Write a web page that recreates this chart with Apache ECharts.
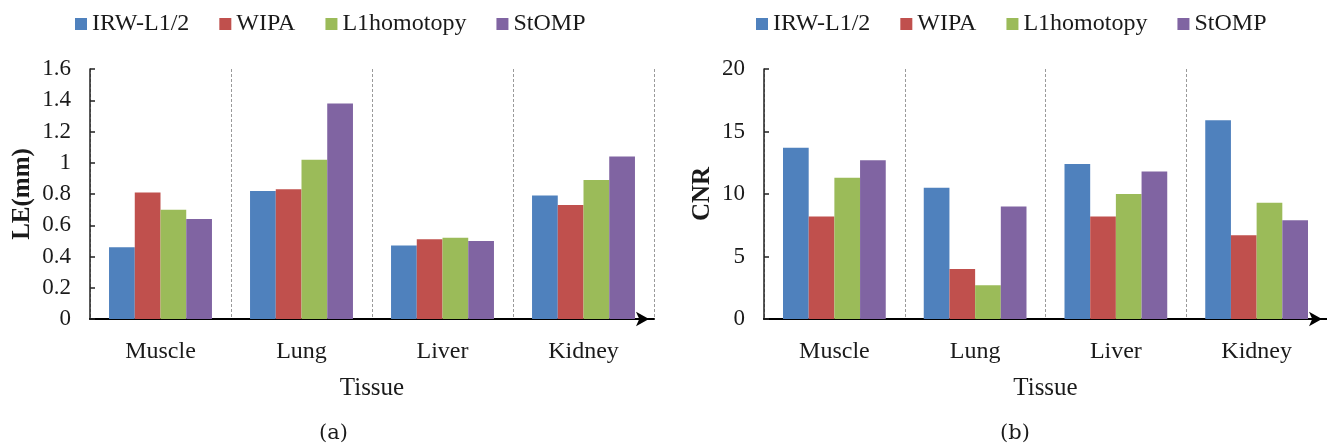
<!DOCTYPE html>
<html>
<head>
<meta charset="utf-8">
<script src="https://cdn.jsdelivr.net/npm/echarts@6/dist/echarts.min.js"></script>
<style>
  html, body { margin: 0; padding: 0; background: #fff; }
  #chart { width: 1327px; height: 446px; }
</style>
</head>
<body>
<div id="chart"></div>
<script>
// tissues and methods
var tissues = ["Muscle", "Lung", "Liver", "Kidney"];
var methods = ["IRW-L1/2", "WIPA", "L1homotopy", "StOMP"];
var colors = ["#4F81BD", "#C0504D", "#9BBB59", "#8064A2"];

// (a) localisation error, mm
var leIRW = [0.46, 0.82, 0.47, 0.79];
var leWIPA = [0.81, 0.83, 0.51, 0.73];
var leL1 = [0.70, 1.02, 0.52, 0.89];
var leStOMP = [0.64, 1.38, 0.50, 1.04];

// (b) contrast to noise ratio
var cnrIRW = [13.7, 10.5, 12.4, 15.9];
var cnrWIPA = [8.2, 4.0, 8.2, 6.7];
var cnrL1 = [11.3, 2.7, 10.0, 9.3];
var cnrStOMP = [12.7, 9.0, 11.8, 7.9];

var serif = "Liberation Serif";

function xAxisOf(gridIndex) {
  return {
    type: "category",
    gridIndex: gridIndex,
    data: tissues,
    name: "Tissue",
    nameLocation: "middle",
    nameGap: 57,
    nameTextStyle: { fontFamily: serif, fontSize: 25, color: "#1a1a1a" },
    axisLine: {
      lineStyle: { color: "#000", width: 2 },
      symbol: ["none", "arrow"],
      symbolSize: [11, 13],
      symbolOffset: [0, -5]
    },
    axisTick: { show: false },
    axisLabel: { margin: 21, fontFamily: serif, fontSize: 24, color: "#1a1a1a" },
    splitLine: { show: true, lineStyle: { color: "#9a9a9a", type: [3, 2], width: 1 } }
  };
}

function yAxisOf(gridIndex, name, max, step, nameGap) {
  return {
    type: "value",
    gridIndex: gridIndex,
    min: 0,
    max: max,
    interval: step,
    name: name,
    nameLocation: "middle",
    nameGap: nameGap,
    nameTextStyle: { fontFamily: serif, fontSize: 25, fontWeight: "bold", color: "#1a1a1a" },
    axisLine: { show: true, lineStyle: { color: "#222", width: 1.5 } },
    axisTick: { show: true, inside: true, length: 5, lineStyle: { color: "#222", width: 1.5 } },
    axisLabel: { margin: 19, fontFamily: serif, fontSize: 23, color: "#1a1a1a" },
    splitLine: { show: false }
  };
}

function barsOf(gridIndex, lists) {
  return lists.map(function (vals, i) {
    return {
      name: methods[i],
      type: "bar",
      xAxisIndex: gridIndex,
      yAxisIndex: gridIndex,
      data: vals,
      barGap: "0%",
      barCategoryGap: "27%",
      itemStyle: { color: colors[i] }
    };
  });
}

function legendAt(x) {
  return {
    data: methods,
    left: x,
    top: 7,
    icon: "rect",
    itemWidth: 12,
    itemHeight: 12,
    itemGap: 30,
    textStyle: { fontFamily: serif, fontSize: 24, color: "#1a1a1a" }
  };
}

var myChart = echarts.init(document.getElementById("chart"));

var option = {
  backgroundColor: "#fff",
  animation: false,
  color: colors,
  legend: [legendAt(70), legendAt(751)],
  grid: [
    { left: 90, right: 673, top: 69, bottom: 127 },
    { left: 764, right: -4, top: 69, bottom: 127 }
  ],
  xAxis: [xAxisOf(0), xAxisOf(1)],
  yAxis: [
    yAxisOf(0, "LE(mm)", 1.6, 0.2, 55),
    yAxisOf(1, "CNR", 20, 5, 49)
  ],
  series: barsOf(0, [leIRW, leWIPA, leL1, leStOMP])
    .concat(barsOf(1, [cnrIRW, cnrWIPA, cnrL1, cnrStOMP])),
  graphic: [
    { type: "text", left: 319, top: 423, style: { text: "(a)", font: "21px 'DejaVu Serif'", fill: "#1a1a1a" } },
    { type: "text", left: 1000, top: 423, style: { text: "(b)", font: "21px 'DejaVu Serif'", fill: "#1a1a1a" } }
  ]
};

myChart.setOption(option, true);
window.addEventListener("resize", () => {
  myChart.resize();
});
</script>
</body>
</html>
